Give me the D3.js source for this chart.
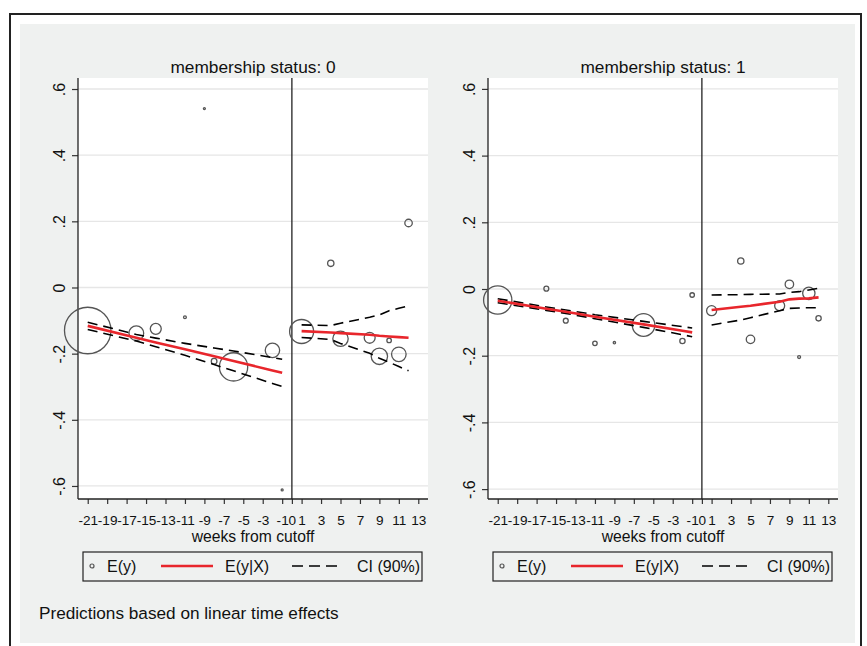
<!DOCTYPE html>
<html>
<head>
<meta charset="utf-8">
<script src="https://cdn.jsdelivr.net/npm/d3@7"></script>
<style>
  html, body { margin: 0; padding: 0; background: #ffffff; }
  svg { display: block; font-family: Arial, "Liberation Sans", Helvetica, sans-serif; }
</style>
</head>
<body>
<svg id="chart" width="867" height="646"></svg>
<script>
// ---------------- DATA ----------------
const panelTitles = ["membership status: 0", "membership status: 1"];
const xTickValues = [-21,-19,-17,-15,-13,-11,-9,-7,-5,-3,-1,0,1,3,5,7,9,11,13];
const yTickValues = [-0.6,-0.4,-0.2,0,0.2,0.4,0.6];
const yTickLabels = ["-.6","-.4","-.2","0",".2",".4",".6"];
const xAxisTitle = "weeks from cutoff";
const legendLabels = ["E(y)", "E(y|X)", "CI (90%)"];
const noteText = "Predictions based on linear time effects";

// observed means E(y): week, value, weight (cell size)
const obsStatus0 = [
  {w:-21, v:-0.130, n:540}, {w:-16, v:-0.138, n:54}, {w:-14, v:-0.125, n:30},
  {w:-11, v:-0.090, n:2},   {w:-9,  v: 0.541, n:1},  {w:-8,  v:-0.223, n:8},
  {w:-6,  v:-0.240, n:200}, {w:-2,  v:-0.190, n:52}, {w:-1,  v:-0.612, n:1},
  {w:1,   v:-0.133, n:144}, {w:4,   v: 0.073, n:10}, {w:5,   v:-0.155, n:59},
  {w:8,   v:-0.152, n:30},  {w:9,   v:-0.208, n:67}, {w:10,  v:-0.160, n:5},
  {w:11,  v:-0.202, n:53},  {w:12,  v: 0.195, n:14}
];
const obsStatus1 = [
  {w:-21, v:-0.033, n:200}, {w:-16, v: 0.001, n:6},  {w:-14, v:-0.095, n:6},
  {w:-11, v:-0.163, n:5},   {w:-9,  v:-0.161, n:1.4},{w:-6,  v:-0.108, n:128},
  {w:-2,  v:-0.156, n:7},   {w:-1,  v:-0.018, n:5},  {w:1,   v:-0.065, n:25},
  {w:4,   v: 0.084, n:10},  {w:5,   v:-0.151, n:18}, {w:8,   v:-0.050, n:25},
  {w:9,   v: 0.014, n:18},  {w:10,  v:-0.204, n:2.2},{w:11,  v:-0.013, n:38},
  {w:12,  v:-0.088, n:7}
];

// fitted E(y|X) with 90% CI, before and after cutoff
const fitStatus0Pre = [
  {w:-21, fit:-0.116, lo:-0.127, hi:-0.105}, {w:-16, fit:-0.152, lo:-0.162, hi:-0.142},
  {w:-14, fit:-0.166, lo:-0.179, hi:-0.153}, {w:-11, fit:-0.187, lo:-0.205, hi:-0.169},
  {w:-8,  fit:-0.208, lo:-0.233, hi:-0.183}, {w:-6,  fit:-0.222, lo:-0.252, hi:-0.192},
  {w:-2,  fit:-0.251, lo:-0.290, hi:-0.212}, {w:-1,  fit:-0.258, lo:-0.299, hi:-0.217}
];
const fitStatus0Post = [
  {w:1,  fit:-0.132, lo:-0.151, hi:-0.113}, {w:4,  fit:-0.136, lo:-0.157, hi:-0.115},
  {w:5,  fit:-0.138, lo:-0.169, hi:-0.108}, {w:8,  fit:-0.143, lo:-0.199, hi:-0.090},
  {w:9,  fit:-0.146, lo:-0.214, hi:-0.083}, {w:10, fit:-0.148, lo:-0.226, hi:-0.070},
  {w:11, fit:-0.150, lo:-0.239, hi:-0.063}, {w:12, fit:-0.152, lo:-0.252, hi:-0.056}
];
const fitStatus1Pre = [
  {w:-21, fit:-0.035, lo:-0.041, hi:-0.029}, {w:-16, fit:-0.059, lo:-0.064, hi:-0.054},
  {w:-14, fit:-0.068, lo:-0.073, hi:-0.063}, {w:-11, fit:-0.083, lo:-0.089, hi:-0.077},
  {w:-6,  fit:-0.106, lo:-0.115, hi:-0.097}, {w:-2,  fit:-0.125, lo:-0.137, hi:-0.113},
  {w:-1,  fit:-0.130, lo:-0.143, hi:-0.117}
];
const fitStatus1Post = [
  {w:1,  fit:-0.063, lo:-0.108, hi:-0.018}, {w:4,  fit:-0.053, lo:-0.093, hi:-0.017},
  {w:5,  fit:-0.050, lo:-0.086, hi:-0.016}, {w:8,  fit:-0.038, lo:-0.065, hi:-0.015},
  {w:9,  fit:-0.031, lo:-0.058, hi:-0.010}, {w:10, fit:-0.029, lo:-0.057, hi:-0.008},
  {w:11, fit:-0.028, lo:-0.056, hi:-0.003}, {w:12, fit:-0.025, lo:-0.056, hi: 0.002}
];

// ---------------- LAYOUT ----------------
const BG = "#eff1f0";
const RED = "#e8262c";
const svg = d3.select("#chart");

svg.append("rect").attr("x", 0).attr("y", 0).attr("width", 867).attr("height", 646).attr("fill", "#fff");
svg.append("rect").attr("x", 10).attr("y", 14).attr("width", 851).attr("height", 640)
  .attr("fill", "#fff").attr("stroke", "#222").attr("stroke-width", 2);
svg.append("rect").attr("x", 20).attr("y", 24).attr("width", 835).attr("height", 619).attr("fill", BG);

const panels = [
  {title: panelTitles[0], obs: obsStatus0, pre: fitStatus0Pre, post: fitStatus0Post,
   x0: 78, x1: 428, yDom: [-0.6394, 0.6333], legX: 83},
  {title: panelTitles[1], obs: obsStatus1, pre: fitStatus1Pre, post: fitStatus1Post,
   x0: 488, x1: 838, yDom: [-0.6297, 0.6327], legX: 493}
];
const yTop = 78, yBot = 499;
const rScale = d3.scaleSqrt().domain([0, 100]).range([0, 10]);

panels.forEach(p => {
  const g = svg.append("g");
  const x = d3.scaleLinear().domain([-22, 14]).range([p.x0, p.x1]);
  const y = d3.scaleLinear().domain(p.yDom).range([yBot, yTop]);

  g.append("rect").attr("x", p.x0).attr("y", yTop).attr("width", p.x1 - p.x0)
    .attr("height", yBot - yTop).attr("fill", "#fff");

  // grid
  g.selectAll(".grid").data(yTickValues).join("line")
    .attr("x1", p.x0).attr("x2", p.x1)
    .attr("y1", d => y(d)).attr("y2", d => y(d))
    .attr("stroke", "#e6e6e6").attr("stroke-width", 1.3);

  // title
  g.append("text").attr("x", (p.x0 + p.x1) / 2).attr("y", 73)
    .attr("text-anchor", "middle").attr("font-size", 17.3).attr("fill", "#111")
    .text(p.title);

  // y axis
  const yAxis = d3.axisLeft(y).tickValues(yTickValues).tickSize(6)
    .tickFormat((d, i) => yTickLabels[i]);
  const ya = g.append("g").attr("transform", `translate(${p.x0},0)`).call(yAxis);
  ya.select(".domain").remove();
  ya.selectAll(".tick line").attr("stroke", "#333").attr("stroke-width", 1.2);
  ya.selectAll(".tick text")
    .attr("font-size", 16).attr("fill", "#111")
    .attr("x", null).attr("dy", null)
    .attr("text-anchor", "middle")
    .attr("transform", "translate(-13,0) rotate(-90)");
  g.append("line").attr("x1", p.x0).attr("x2", p.x0).attr("y1", yTop).attr("y2", yBot)
    .attr("stroke", "#222").attr("stroke-width", 1.3);

  // x axis
  const xAxis = d3.axisBottom(x).tickValues(xTickValues).tickSize(5).tickFormat(d => d);
  const xa = g.append("g").attr("transform", `translate(0,${yBot})`).call(xAxis);
  xa.select(".domain").remove();
  xa.selectAll(".tick line").attr("stroke", "#333").attr("stroke-width", 1.2);
  xa.selectAll(".tick text").attr("font-size", 13.6).attr("fill", "#111").attr("dy", null).attr("y", 26);
  g.append("line").attr("x1", p.x0).attr("x2", p.x1).attr("y1", yBot).attr("y2", yBot)
    .attr("stroke", "#222").attr("stroke-width", 1.3);
  g.append("text").attr("x", (p.x0 + p.x1) / 2).attr("y", 541.5)
    .attr("text-anchor", "middle").attr("font-size", 15.7).attr("fill", "#111").text(xAxisTitle);

  // cutoff line
  g.append("line").attr("x1", x(0)).attr("x2", x(0)).attr("y1", yTop).attr("y2", yBot)
    .attr("stroke", "#222").attr("stroke-width", 1.3);

  // observed points
  g.selectAll(".obs").data(p.obs).join("circle")
    .attr("cx", d => x(d.w)).attr("cy", d => y(d.v)).attr("r", d => rScale(d.n))
    .attr("fill", "none").attr("stroke", "#555").attr("stroke-width", 1.3);

  // fits
  [p.pre, p.post].forEach(seg => {
    const lineOf = key => d3.line().x(d => x(d.w)).y(d => y(d[key]))(seg);
    ["hi", "lo"].forEach(k => {
      g.append("path").attr("d", lineOf(k)).attr("fill", "none")
        .attr("stroke", "#000").attr("stroke-width", 1.6).attr("stroke-dasharray", "10,6");
    });
    g.append("path").attr("d", lineOf("fit")).attr("fill", "none")
      .attr("stroke", RED).attr("stroke-width", 2.6);
  });

  // legend
  const lg = g.append("g").attr("transform", `translate(${p.legX},552)`);
  lg.append("rect").attr("x", 0).attr("y", 0).attr("width", p.x1 - p.x0 - 11).attr("height", 29)
    .attr("fill", "none").attr("stroke", "#222").attr("stroke-width", 1.2);
  lg.append("circle").attr("cx", 9).attr("cy", 14).attr("r", 2).attr("fill", "none")
    .attr("stroke", "#555").attr("stroke-width", 1.2);
  lg.append("line").attr("x1", 78).attr("x2", 130).attr("y1", 14).attr("y2", 14)
    .attr("stroke", RED).attr("stroke-width", 2.6);
  lg.append("line").attr("x1", 209).attr("x2", 257).attr("y1", 14).attr("y2", 14)
    .attr("stroke", "#000").attr("stroke-width", 1.6).attr("stroke-dasharray", "11,6");
  [[24, legendLabels[0]], [142, legendLabels[1]], [274, legendLabels[2]]].forEach(([lx, t]) => {
    lg.append("text").attr("x", lx).attr("y", 19.5).attr("font-size", 16).attr("fill", "#111").text(t);
  });
});

svg.append("text").attr("x", 39).attr("y", 618.5).attr("font-size", 17.2).attr("fill", "#111").text(noteText);
</script>
</body>
</html>
